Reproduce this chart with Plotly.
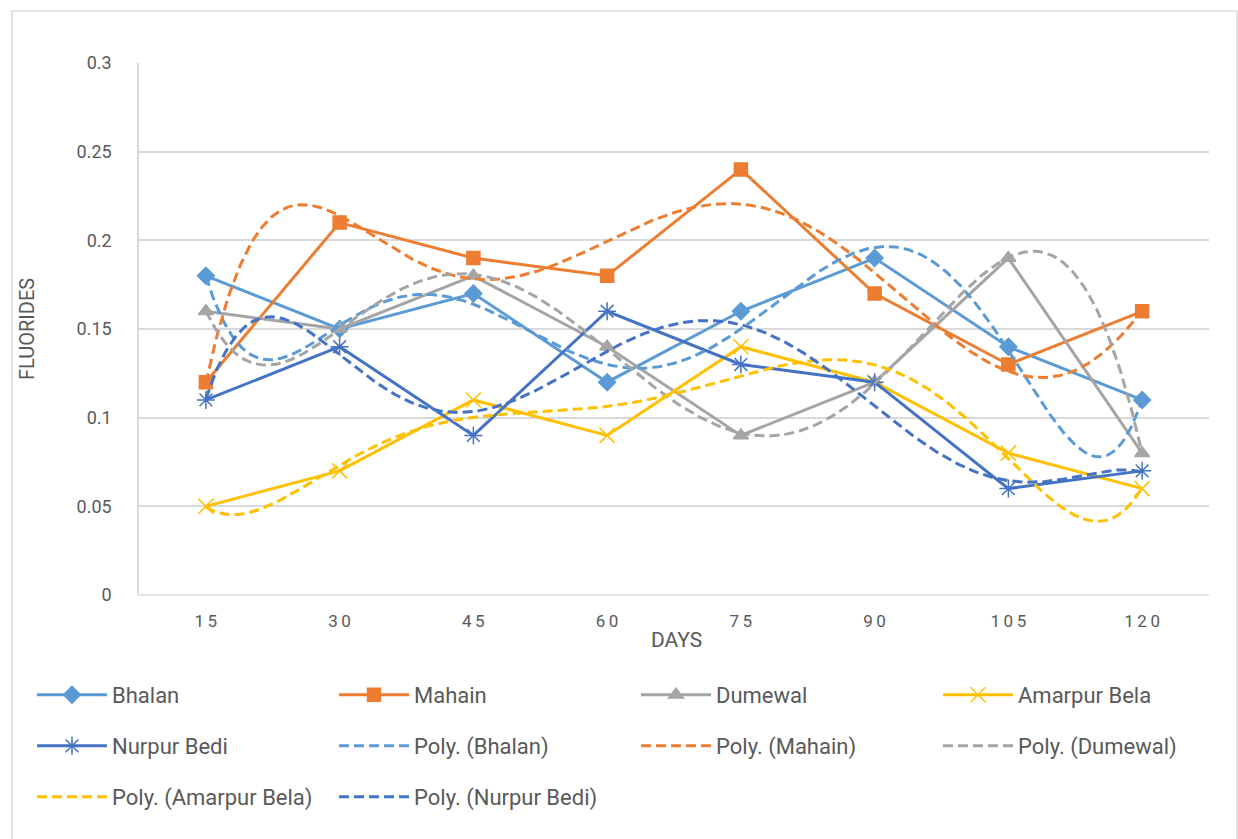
import numpy as np
import plotly.graph_objects as go

# Sampling days (category axis) and fluoride readings per site
days = ["15", "30", "45", "60", "75", "90", "105", "120"]
bhalan = [0.18, 0.15, 0.17, 0.12, 0.16, 0.19, 0.14, 0.11]
mahain = [0.12, 0.21, 0.19, 0.18, 0.24, 0.17, 0.13, 0.16]
dumewal = [0.16, 0.15, 0.18, 0.14, 0.09, 0.12, 0.19, 0.08]
amarpur_bela = [0.05, 0.07, 0.11, 0.09, 0.14, 0.12, 0.08, 0.06]
nurpur_bedi = [0.11, 0.14, 0.09, 0.16, 0.13, 0.12, 0.06, 0.07]

y_ticks = [0, 0.05, 0.1, 0.15, 0.2, 0.25, 0.3]
y_tick_text = ["0", "0.05", "0.1", "0.15", "0.2", "0.25", "0.3"]

series = [
    ("Bhalan", bhalan, "#5B9BD5", "diamond"),
    ("Mahain", mahain, "#ED7D31", "square"),
    ("Dumewal", dumewal, "#A5A5A5", "triangle-up"),
    ("Amarpur Bela", amarpur_bela, "#FFC000", "x-thin-open"),
    ("Nurpur Bedi", nurpur_bedi, "#4472C4", "asterisk-open"),
]

# category positions 1..n, like a spreadsheet line chart
xpos = np.arange(1, len(days) + 1)
xfine = np.linspace(1, len(days), 400)
POLY_ORDER = 6

# legend rows: four entries per row, in trace order
legend_ids = ["legend"] * 4 + ["legend2"] * 4 + ["legend3"] * 2

fig = go.Figure()

k = 0
for name, vals, color, sym in series:
    filled = sym in ("diamond", "square", "triangle-up")
    fig.add_trace(go.Scatter(
        x=xpos, y=vals, name=name, mode="lines+markers", legend=legend_ids[k],
        line=dict(color=color, width=3),
        marker=dict(symbol=sym, size=13 if filled else 15,
                    color=color, line=dict(color=color, width=1.5)),
    ))
    k += 1

# polynomial trendlines fitted to each site's readings
for name, vals, color, sym in series:
    coef = np.polyfit(xpos, vals, POLY_ORDER)
    fig.add_trace(go.Scatter(
        x=xfine, y=np.polyval(coef, xfine), name=f"Poly. ({name})", mode="lines",
        legend=legend_ids[k],
        line=dict(color=color, width=3, dash="10px,5px"),
    ))
    k += 1

L, R, T, B = 139, 29, 63, 244
W, H = 1238, 839
pw, ph = W - L - R, H - T - B


def px(x):
    return (x - L) / pw


def py(y):
    return (H - B - y) / ph


grey = "#595959"
font = "Roboto, Liberation Sans, sans-serif"


def legend_row(ycenter):
    return dict(
        orientation="h", x=px(32), y=py(ycenter), xanchor="left", yanchor="middle",
        entrywidth=217, entrywidthmode="pixels", itemwidth=70,
        font=dict(size=22, color=grey, family=font),
        bgcolor="rgba(0,0,0,0)",
    )


fig.update_layout(
    width=W, height=H,
    margin=dict(l=L, r=R, t=T, b=B, autoexpand=False),
    paper_bgcolor="white", plot_bgcolor="white",
    font=dict(family=font, color=grey, size=16),
    xaxis=dict(
        range=[0.5, len(days) + 0.5], tickvals=list(xpos),
        ticktext=["\u2009".join(d) for d in days],
        showgrid=False, zeroline=False, showline=False,
        ticks="", ticklabelstandoff=14, tickfont=dict(size=17, color=grey),
    ),
    yaxis=dict(
        range=[0, 0.3], tickvals=y_ticks, ticktext=y_tick_text,
        showgrid=True, gridcolor="#D9D9D9", gridwidth=1.5,
        zeroline=False, showline=True, linecolor="#D9D9D9", linewidth=1.5,
        ticks="", ticklabelstandoff=22, tickfont=dict(size=18, color=grey),
    ),
    legend=legend_row(695),
    legend2=legend_row(746),
    legend3=legend_row(797),
    annotations=[
        dict(text="DAYS", x=px(676), y=py(640), xref="paper", yref="paper",
             showarrow=False, xanchor="center", yanchor="middle",
             font=dict(size=21, color=grey, family=font)),
        dict(text="FLUORIDES", x=px(27), y=py(329), xref="paper", yref="paper",
             showarrow=False, xanchor="center", yanchor="middle", textangle=-90,
             font=dict(size=20, color=grey, family=font)),
    ],
    shapes=[
        dict(type="rect", xref="paper", yref="paper",
             x0=px(12), x1=px(1237), y0=py(860), y1=py(11),
             line=dict(color="#D9D9D9", width=1.5), fillcolor="rgba(0,0,0,0)", layer="below"),
        dict(type="line", xref="paper", yref="paper", x0=0, x1=1, y0=0, y1=0,
             line=dict(color="#D9D9D9", width=1.5), layer="below"),
    ],
)

fig.write_html("out.html")
